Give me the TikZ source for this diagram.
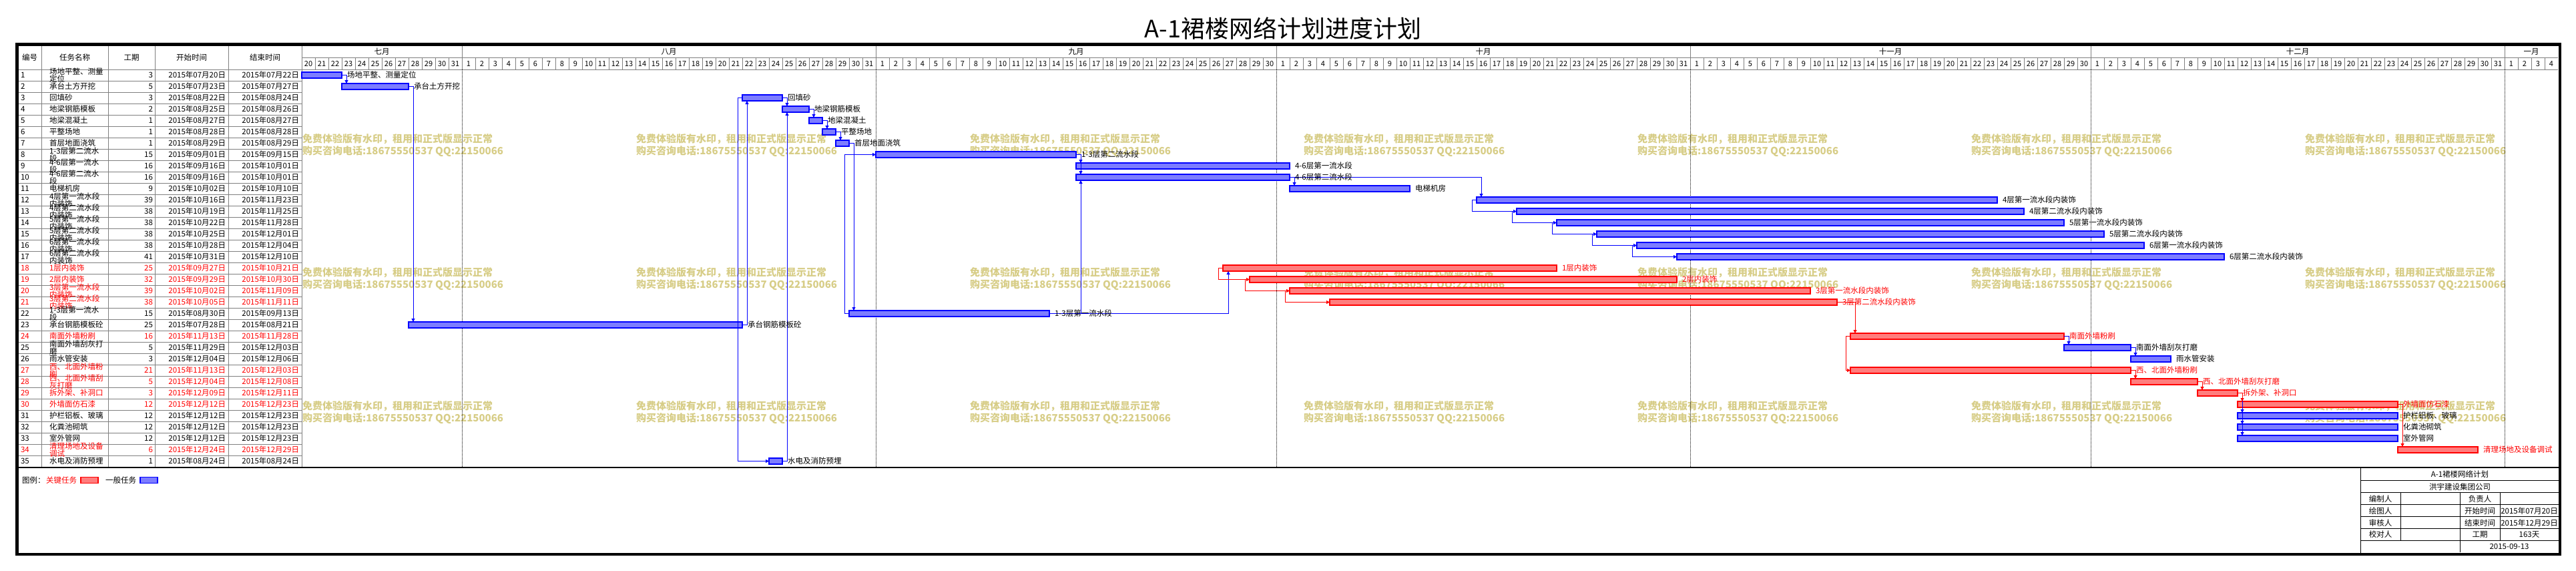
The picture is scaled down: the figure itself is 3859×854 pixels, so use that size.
\documentclass[tikz,border=0pt]{standalone}
\usepackage{fontspec}
\setmainfont{Noto Sans CJK SC}
\usetikzlibrary{arrows.meta,calc,patterns.meta}
\definecolor{pblue}{RGB}{0,0,255}
\definecolor{pred}{RGB}{255,0,0}
\definecolor{gridc}{RGB}{128,128,128}
\definecolor{wmc}{RGB}{215,205,135}
\definecolor{bfill}{RGB}{125,125,255}
\definecolor{rfill}{RGB}{255,125,125}
\newcommand\fsm{\fontsize{11.5pt}{11pt}\selectfont}
\begin{document}
\begin{tikzpicture}[x=1pt,y=-1pt,
  gridl/.style={draw=gridc,line width=0.9pt},
  dotl/.style={draw=black,line width=0.8pt,dash pattern=on 1pt off 1pt},
  ink/.style={draw=black,line width=1pt},
  tt/.style={font=\fsm,inner sep=0pt,outer sep=0pt,text height=9.4pt,text depth=0.6pt},
  ttB/.style={tt,text=black},
  ttR/.style={tt,text=pred},
  labB/.style={tt,text=black},
  labR/.style={tt,text=pred},
  barbase/.style={line width=1.2pt,inner sep=0pt,outer sep=0pt,minimum height=9pt},
  barB/.style={barbase,draw=pblue,fill=bfill},
  barR/.style={barbase,draw=pred,fill=rfill},
  cb/.style={draw=pblue,line width=1pt,-{Triangle[length=5pt,width=5pt]}},
  cr/.style={draw=pred,line width=1pt,-{Triangle[length=5pt,width=5pt]}},
  wmk/.style={font=\fontsize{15pt}{15pt}\selectfont\bfseries,text=wmc,inner sep=0pt,outer sep=0pt}
]
\useasboundingbox (0,0) rectangle (3859,854);

% title
\node[anchor=base,inner sep=0pt,font=\fontsize{36pt}{36pt}\selectfont] (title) at (1922,56) {A-1裙楼网络计划进度计划};

% watermark
\foreach \i in {0,...,6} \foreach \j in {0,1,2} {
  \node[wmk,anchor=base west] (wa\i\j) at ({453+500*\i},{213.7+200*\j}) {免费体验版有水印，租用和正式版显示正常};
  \node[wmk,anchor=base west] (wb\i\j) at ({453+500*\i},{231.7+200*\j}) {购买咨询电话:18675550537 QQ:22150066};
}

% table grid
\foreach \x in {62,162,232,342,452} \draw[gridl] (\x,69) -- (\x,700);
\foreach \k in {0,...,34} \draw[gridl] (27,{104+17*\k}) -- (452,{104+17*\k});
\draw[gridl] (452,86) -- (3832,86);
\draw[gridl] (452,104) -- (3832,104);
\foreach \k in {1,...,168} \draw[gridl] ({452+20*\k},86) -- ({452+20*\k},104);
\foreach \k in {12,43,73,104,134,165} {
  \draw[gridl] ({452+20*\k},69) -- ({452+20*\k},86);
  \draw[dotl] ({452+20*\k},104) -- ({452+20*\k},699);
}

% table header
\node[tt] (h1) at (44.5,86.5) {编号};
\node[tt] (h2) at (112,86.5) {任务名称};
\node[tt] (h3) at (197,86.5) {工期};
\node[tt] (h4) at (287,86.5) {开始时间};
\node[tt] (h5) at (397,86.5) {结束时间};

% months
\foreach \nm/\cx in {七月/572,八月/1002,九月/1612,十月/2222,十一月/2832,十二月/3442,一月/3792}
  \node[tt] (mo\cx) at (\cx,77.5) {\nm};
% days
\foreach \off/\a/\b in {-20/20/31,11/1/31,42/1/30,72/1/31,103/1/30,133/1/31,164/1/4} {
  \foreach \d in {\a,...,\b} {
    \pgfmathtruncatemacro\dx{\off+\d}
    \node[tt,font=\fontsize{11pt}{11pt}\selectfont] (dy\dx) at ({452+20*\dx+10},95) {\d};
  }
}

% table rows
\foreach \i/\nmA/\nmB/\du/\st/\en/\k in {
1/场地平整、测量/定位/3/07月20日/07月22日/B,
2/承台土方开挖//5/07月23日/07月27日/B,
3/回填砂//3/08月22日/08月24日/B,
4/地梁钢筋模板//2/08月25日/08月26日/B,
5/地梁混凝土//1/08月27日/08月27日/B,
6/平整场地//1/08月28日/08月28日/B,
7/首层地面浇筑//1/08月29日/08月29日/B,
8/1-3层第二流水/段/15/09月01日/09月15日/B,
9/4-6层第一流水/段/16/09月16日/10月01日/B,
10/4-6层第二流水/段/16/09月16日/10月01日/B,
11/电梯机房//9/10月02日/10月10日/B,
12/4层第一流水段/内装饰/39/10月16日/11月23日/B,
13/4层第二流水段/内装饰/38/10月19日/11月25日/B,
14/5层第一流水段/内装饰/38/10月22日/11月28日/B,
15/5层第二流水段/内装饰/38/10月25日/12月01日/B,
16/6层第一流水段/内装饰/38/10月28日/12月04日/B,
17/6层第二流水段/内装饰/41/10月31日/12月10日/B,
18/1层内装饰//25/09月27日/10月21日/R,
19/2层内装饰//32/09月29日/10月30日/R,
20/3层第一流水段/内装饰/39/10月02日/11月09日/R,
21/3层第二流水段/内装饰/38/10月05日/11月11日/R,
22/1-3层第一流水/段/15/08月30日/09月13日/B,
23/承台钢筋模板砼//25/07月28日/08月21日/B,
24/南面外墙粉刷//16/11月13日/11月28日/R,
25/南面外墙刮灰打/磨/5/11月29日/12月03日/B,
26/雨水管安装//3/12月04日/12月06日/B,
27/西、北面外墙粉/刷/21/11月13日/12月03日/R,
28/西、北面外墙刮/灰打磨/5/12月04日/12月08日/R,
29/拆外架、补洞口//3/12月09日/12月11日/R,
30/外墙面仿石漆//12/12月12日/12月23日/R,
31/护栏铝板、玻璃//12/12月12日/12月23日/B,
32/化粪池砌筑//12/12月12日/12月23日/B,
33/室外管网//12/12月12日/12月23日/B,
34/清理场地及设备/调试/6/12月24日/12月29日/R,
35/水电及消防预埋//1/08月24日/08月24日/B} {
  \pgfmathsetmacro\rc{104+17*(\i-1)+8.5}
  \node[tt\k,anchor=west] (c\i) at (31,\rc) {\i};
  \edef\tmpnm{\nmB}
  \ifx\tmpnm\empty
    \node[tt\k,anchor=west] (m\i) at (74,\rc) {\nmA};
  \else
    \node[tt\k,anchor=west] (m\i) at (74,\rc-5.5) {\nmA};
    \node[tt\k,anchor=west] (mm\i) at (74,\rc+5.5) {\nmB};
  \fi
  \node[tt\k,anchor=east] (d\i) at (229,\rc) {\du};
  \node[tt\k,anchor=east] (s\i) at (338,\rc) {2015年\st};
  \node[tt\k,anchor=east] (e\i) at (448,\rc) {2015年\en};
}

% bars
\foreach \i/\s/\e/\k in {
1/0/2/B,2/3/7/B,3/33/35/B,4/36/37/B,5/38/38/B,6/39/39/B,7/40/40/B,
8/43/57/B,9/58/73/B,10/58/73/B,11/74/82/B,12/88/126/B,13/91/128/B,
14/94/131/B,15/97/134/B,16/100/137/B,17/103/143/B,18/69/93/R,19/71/102/R,
20/74/112/R,21/77/114/R,22/41/55/B,23/8/32/B,24/116/131/R,25/132/136/B,
26/137/139/B,27/116/136/R,28/137/141/R,29/142/144/R,30/145/156/R,
31/145/156/B,32/145/156/B,33/145/156/B,34/157/162/R,35/35/35/B} {
  \pgfmathsetmacro\bx{452+20*\s}
  \pgfmathsetmacro\bw{20*(\e-\s+1)}
  \pgfmathsetmacro\by{104+17*(\i-1)+4}
  \node[bar\k,minimum width=\bw pt,anchor=north west] (b\i) at (\bx,\by) {};
}

% connectors
\draw[cb] (b1.east) -| ($(b2.north west)+(7,0)$);
\draw[cb] (b2.east) -| ($(b23.north west)+(7,0)$);
\draw[cb] (b23.east) -| ($(b3.south west)+(7,0)$);
\draw[cb] (b3.east) -| ($(b4.north west)+(7,0)$);
\draw[cb] (b35.east) -| ($(b4.south west)+(7,0)$);
\draw[cb] (b4.east) -| ($(b5.north west)+(7,0)$);
\draw[cb] (b5.east) -| ($(b6.north west)+(7,0)$);
\draw[cb] (b6.east) -| ($(b7.north west)+(7,0)$);
\draw[cb] (b7.east) -| ($(b22.north west)+(7,0)$);
\draw[cb] (b3.west) -- ++(-7,0) |- (b35.west);
\draw[cb] (b22.west) -- ++(-7,0) |- (b8.west);
\draw[cb] (b8.east) -| ($(b9.north west)+(7,0)$);
\draw[cb] (b8.east) -| ($(b10.north west)+(7,0)$);
\draw[cb] (b22.east) -| ($(b10.south west)+(7,0)$);
\draw[cb] (b22.east) -| ($(b18.south west)+(8,0)$);
\draw[cb] (b10.east) -| ($(b11.north west)+(7,0)$);
\draw[cb] (b10.east) -| ($(b12.north west)+(7,0)$);
\foreach \a/\b in {12/13,13/14,14/15,15/16,16/17}
  \draw[cb] (b\a.west) -- ++(-7,0) |- (b\b.west);
\foreach \a/\b in {18/19,19/20,20/21}
  \draw[cr] (b\a.west) -- ++(-7,0) |- (b\b.west);
\draw[cr] (b21.east) -| ($(b24.north west)+(7,0)$);
\draw[cr] (b24.west) -- ++(-7,0) |- (b27.west);
\draw[cb] (b24.east) -| ($(b25.north west)+(7,0)$);
\draw[cb] (b25.east) -| ($(b26.north west)+(7,0)$);
\draw[cr] (b27.east) -| ($(b28.north west)+(7,0)$);
\draw[cr] (b28.east) -| ($(b29.north west)+(7,0)$);
\foreach \b in {33,32,31}
  \draw[cb] (b29.east) -| ($(b\b.north west)+(7,0)$);
\draw[cr] (b29.east) -| ($(b30.north west)+(7,0)$);
\draw[cr] (b30.east) -| ($(b34.north west)+(7,0)$);

% bar labels
\foreach \i/\lab/\k in {
1/场地平整、测量定位/B,2/承台土方开挖/B,3/回填砂/B,4/地梁钢筋模板/B,5/地梁混凝土/B,
6/平整场地/B,7/首层地面浇筑/B,8/1-3层第二流水段/B,9/4-6层第一流水段/B,
10/4-6层第二流水段/B,11/电梯机房/B,12/4层第一流水段内装饰/B,13/4层第二流水段内装饰/B,
14/5层第一流水段内装饰/B,15/5层第二流水段内装饰/B,16/6层第一流水段内装饰/B,
17/6层第二流水段内装饰/B,18/1层内装饰/R,19/2层内装饰/R,20/3层第一流水段内装饰/R,
21/3层第二流水段内装饰/R,22/1-3层第一流水段/B,23/承台钢筋模板砼/B,24/南面外墙粉刷/R,
25/南面外墙刮灰打磨/B,26/雨水管安装/B,27/西、北面外墙粉刷/R,28/西、北面外墙刮灰打磨/R,
29/拆外架、补洞口/R,30/外墙面仿石漆/R,31/护栏铝板、玻璃/B,32/化粪池砌筑/B,
33/室外管网/B,34/清理场地及设备调试/R,35/水电及消防预埋/B}
  \node[lab\k,anchor=west] (l\i) at ($(b\i.east)+(8,0)$) {\lab};

% separator
\draw[draw=black,line width=1.3pt] (27,700) -- (3833,700);

% legend
\node[ttB,anchor=west] (lg0) at (33,719) {图例：};
\node[ttR,anchor=west] (lg1) at (69,719) {关键任务};
\node[barR,minimum width=26pt,anchor=north west] (lgr) at (121,714.5) {};
\node[ttB,anchor=west] (lg2) at (158,719) {一般任务};
\node[barB,minimum width=26pt,anchor=north west] (lgb) at (210,714.5) {};

% info block
\draw[ink] (3536,700) -- (3536,828);
\foreach \yy in {719.7,737.7,755.7,773.7,791.7,809.3} \draw[ink] (3536,\yy) -- (3833,\yy);
\draw[ink] (3596,737.7) -- (3596,809.3);
\draw[ink] (3745,737.7) -- (3745,809.3);
\draw[ink] (3685,737.7) -- (3685,827);
\node[tt] (ib1) at (3685,710.2) {A-1裙楼网络计划};
\node[tt] (ib2) at (3685,728.7) {洪宇建设集团公司};
\node[tt] (ib3) at (3566,746.7) {编制人};
\node[tt] (ib4) at (3715,746.7) {负责人};
\node[tt] (ib5) at (3566,764.7) {绘图人};
\node[tt] (ib6) at (3715,764.7) {开始时间};
\node[tt] (ib7) at (3789,764.7) {2015年07月20日};
\node[tt] (ib8) at (3566,782.7) {审核人};
\node[tt] (ib9) at (3715,782.7) {结束时间};
\node[tt] (ib10) at (3789,782.7) {2015年12月29日};
\node[tt] (ib11) at (3566,800.5) {校对人};
\node[tt] (ib12) at (3715,800.5) {工期};
\node[tt] (ib13) at (3789,800.5) {163天};
\node[tt] (ib14) at (3759,818) {2015-09-13};

% frame
\draw[draw=black,line width=4.5pt] (25.5,66.5) rectangle (3835,830);
\end{tikzpicture}
\end{document}
